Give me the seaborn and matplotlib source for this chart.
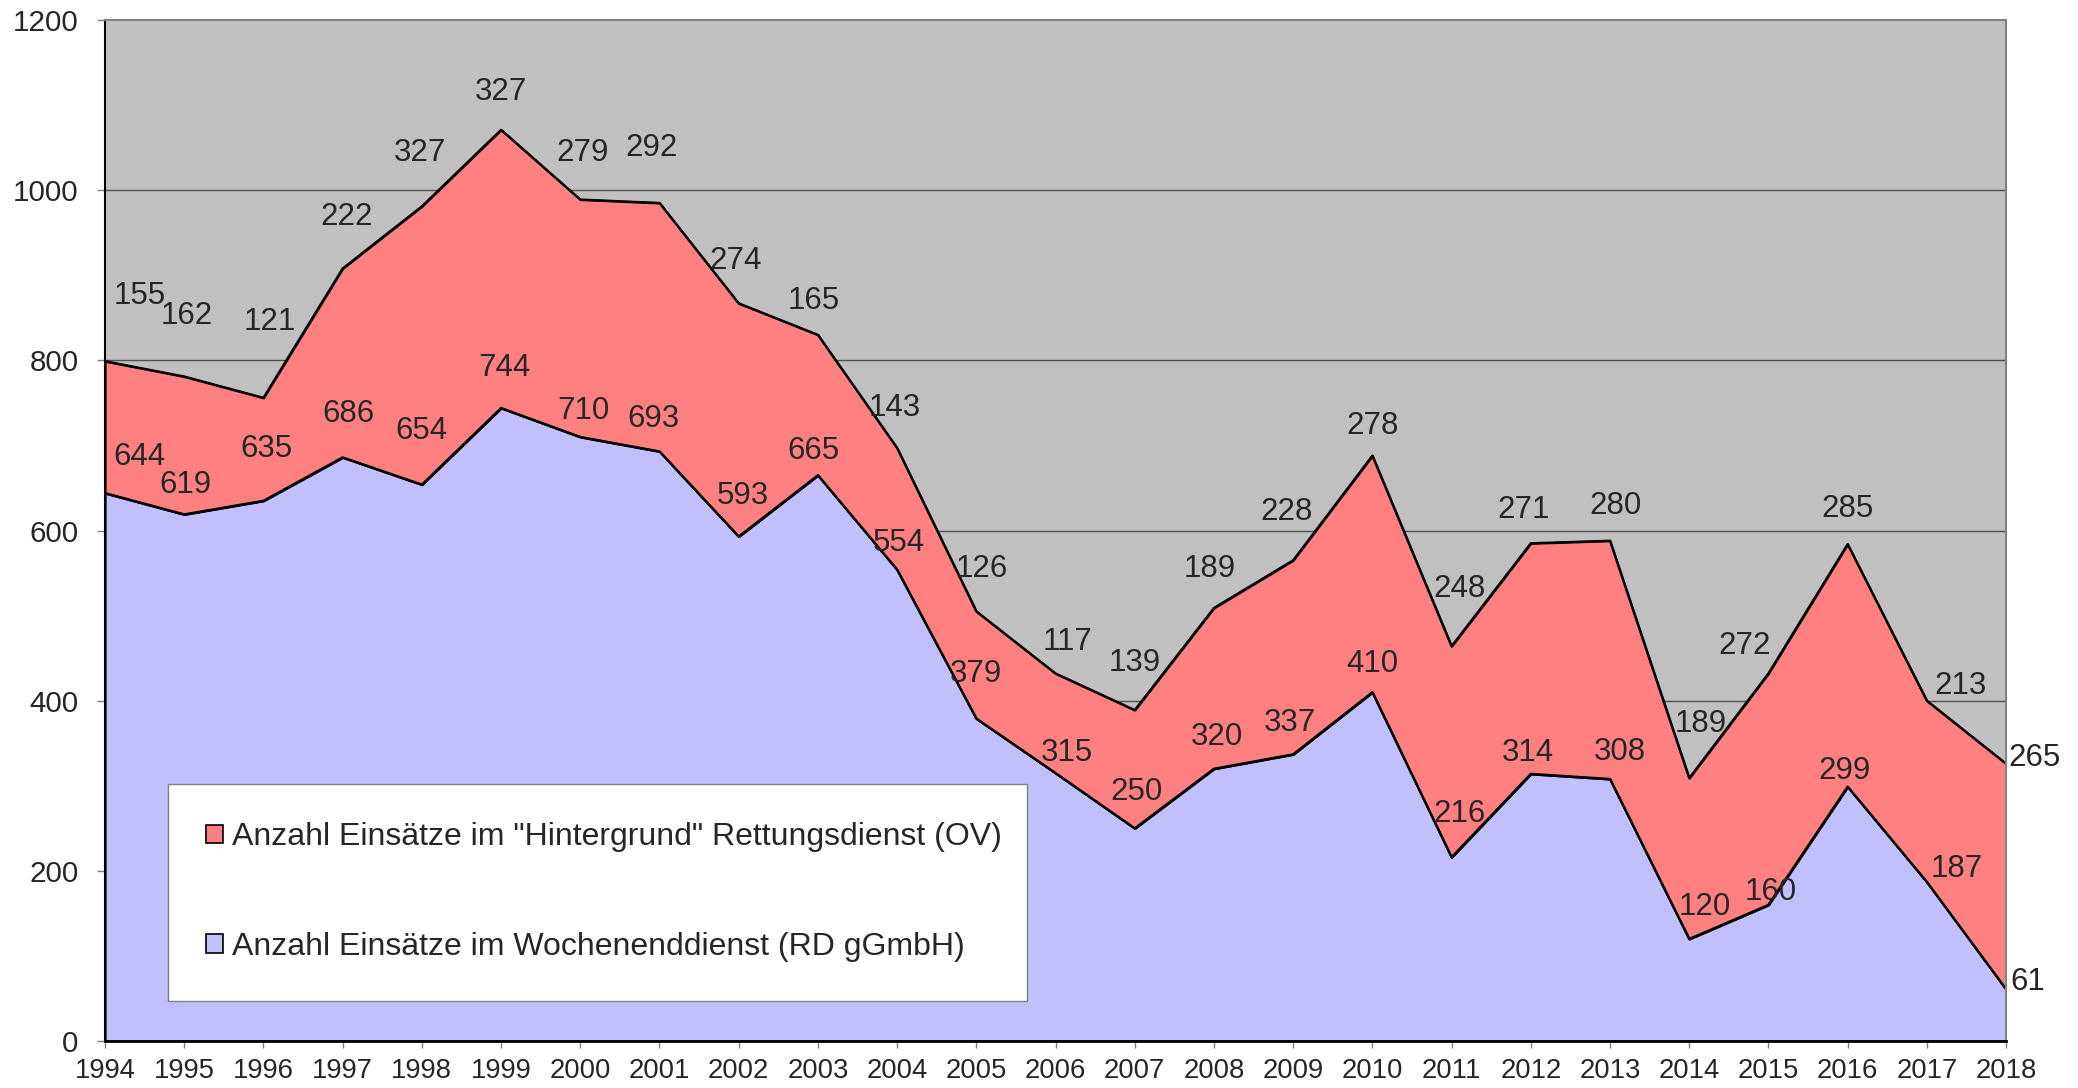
import pandas as pd
import matplotlib
matplotlib.use('Agg')
import matplotlib.pyplot as plt
from matplotlib.patches import Patch
import seaborn as sns

# ------------------------------------------------
# Daten
# ------------------------------------------------
jahre = list(range(1994, 2019))
wochenende = [644, 619, 635, 686, 654, 744, 710, 693, 593, 665, 554, 379, 315,
              250, 320, 337, 410, 216, 314, 308, 120, 160, 299, 187, 61]
hintergrund = [155, 162, 121, 222, 327, 327, 279, 292, 274, 165, 143, 126, 117,
               139, 189, 228, 278, 248, 271, 280, 189, 272, 285, 213, 265]
name_hg = 'Anzahl Einsätze im "Hintergrund" Rettungsdienst (OV)'
name_we = 'Anzahl Einsätze im Wochenenddienst (RD gGmbH)'

# Versatz der Beschriftungen (Pixel), wie im Original verschoben
# (letztes Jahr: linksbündig neben dem Punkt)
dx_hg = [35, 3, 6, 4, -2, 0, 2, -8, -3, -4, -2, 5, 12, 0, -4, -7, 0, 8, -7, 6, 12, -24, 0, 34, 2]
dy_hg = [65, 60, 76, 51, 53, 38, 47, 55, 42, 34, 40, 42, 31, 47, 39, 48, 30, 57, 33, 35, 54, 27, 35, 15, 6]
dx_we = [34, 1, 3, 6, 0, 3, 3, -6, 4, -4, 2, 0, 11, 2, 3, -3, 0, 8, -3, 10, 16, 2, -3, 30, 4]
dy_we = [36, 29, 52, 43, 54, 40, 26, 32, 40, 24, 27, 45, 20, 36, 32, 31, 28, 43, 21, 27, 32, 13, 16, 13, 7]

df = pd.DataFrame({'Jahr': jahre, 'Wochenende': wochenende, 'Hintergrund': hintergrund})
df['Summe'] = df['Wochenende'] + df['Hintergrund']

# ------------------------------------------------
# Stil
# ------------------------------------------------
sns.set_style('white')
plt.rcParams['font.family'] = ['Liberation Sans', 'DejaVu Sans']

ROT = '#FF8080'
BLAU = '#C0C0FF'
GRAU = '#C0C0C0'
RAND = '#808080'
FS = 22.5

fig = plt.figure(figsize=(20.78, 10.88), dpi=100)
ax = fig.add_axes([105 / 2078, 47 / 1088, 1901 / 2078, 1021 / 1088])
ax.set_facecolor(GRAU)

ax.fill_between(df['Jahr'], 0, df['Wochenende'], color=BLAU,
                edgecolor='black', linewidth=1.6, zorder=2)
ax.fill_between(df['Jahr'], df['Wochenende'], df['Summe'], color=ROT,
                edgecolor='black', linewidth=1.6, zorder=2)
sns.lineplot(data=df, x='Jahr', y='Summe', color='black', linewidth=1.6, ax=ax, zorder=3)
sns.lineplot(data=df, x='Jahr', y='Wochenende', color='black', linewidth=1.6, ax=ax, zorder=3)

# Beschriftungen
for i, j in enumerate(jahre):
    ha = 'left' if j == jahre[-1] else 'center'
    ax.annotate(str(hintergrund[i]), xy=(j, df['Summe'][i]),
                xytext=(dx_hg[i], dy_hg[i]), textcoords='offset pixels',
                ha=ha, va='center', fontsize=FS, zorder=5, annotation_clip=False)
    ax.annotate(str(wochenende[i]), xy=(j, wochenende[i]),
                xytext=(dx_we[i], dy_we[i]), textcoords='offset pixels',
                ha=ha, va='center', fontsize=FS, zorder=5, annotation_clip=False)

# Achsen
ax.set_xlim(1994, 2018)
ax.set_ylim(0, 1200)
ax.set_xticks(jahre)
ax.set_xticklabels([str(j) for j in jahre], fontsize=19.8)
ax.set_yticks(range(0, 1201, 200))
ax.set_yticklabels([str(v) for v in range(0, 1201, 200)], fontsize=21.3)
ax.set_xlabel('')
ax.set_ylabel('')
ax.tick_params(axis='x', direction='out', length=5, width=1, color=RAND, pad=7, bottom=True)
ax.tick_params(axis='y', direction='out', length=6, width=1, color=RAND, pad=13, left=True)

for v in range(200, 1001, 200):
    ax.axhline(v, color='#505050', linewidth=1, zorder=1)

ax.spines['left'].set_color('black')
ax.spines['left'].set_linewidth(1.5)
ax.spines['bottom'].set_color('black')
ax.spines['bottom'].set_linewidth(2)
ax.spines['top'].set_color(RAND)
ax.spines['top'].set_linewidth(1.5)
ax.spines['right'].set_color(RAND)
ax.spines['right'].set_linewidth(1.5)
for s in ax.spines.values():
    s.set_zorder(4)

# Legende
handles = [Patch(facecolor=ROT, edgecolor='black', linewidth=1.2, label=name_hg),
           Patch(facecolor=BLAU, edgecolor='black', linewidth=1.2, label=name_we)]
leg = ax.legend(handles=handles, loc='upper left',
                bbox_to_anchor=(0.0331, 0.2517, 0.4519, 0.0), mode='expand',
                fontsize=23, frameon=True, fancybox=False, framealpha=1,
                borderpad=1.2, labelspacing=2.5, handlelength=0.53,
                handleheight=0.53, handletextpad=0.28, borderaxespad=0)
leg.get_frame().set_edgecolor(RAND)
leg.get_frame().set_linewidth(1)
leg.set_zorder(6)

plt.savefig('out.png', dpi=100)
